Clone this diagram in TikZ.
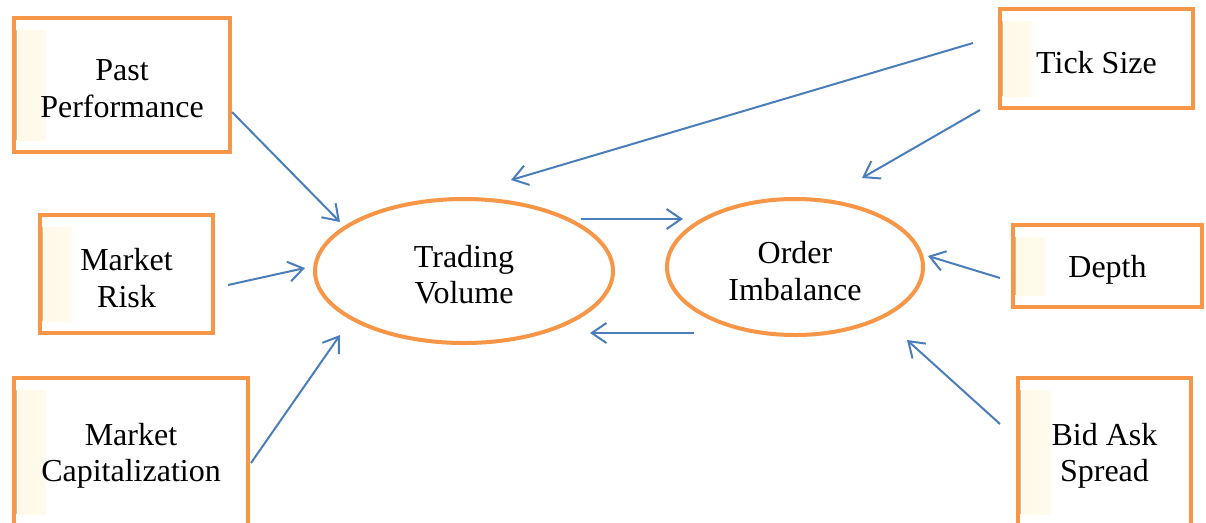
\documentclass[tikz,border=0pt]{standalone}
\usepackage{fontspec}
\setmainfont{Liberation Serif}
\usetikzlibrary{arrows.meta,shapes.geometric}
\definecolor{boxorange}{RGB}{247,150,70}
\definecolor{arrowblue}{RGB}{74,126,187}
\definecolor{stripetan}{RGB}{205,190,160}
\definecolor{stripepale}{RGB}{255,249,232}
\tikzset{
  txt/.style={align=center, font=\fontsize{24}{27.5}\selectfont, inner sep=0pt, yshift=-2.8pt},
  box/.style={draw=boxorange, line width=3pt, rectangle, outer sep=0pt, inner sep=0pt,
    label={[txt]center:{#1}},
    path picture={
      \shade[left color=stripepale, right color=white]
        ([xshift=1.5pt,yshift=-9pt]path picture bounding box.north west) rectangle
        ([xshift=24pt,yshift=9pt]path picture bounding box.south west);
      \draw[stripetan, line width=1pt]
        ([xshift=2pt,yshift=-9pt]path picture bounding box.north west) --
        ([xshift=2pt,yshift=9pt]path picture bounding box.south west);
    }},
  oval/.style={draw=boxorange, line width=3pt, ellipse, outer sep=0pt, inner sep=0pt,
    label={[txt]center:{#1}}},
  link/.style={draw=arrowblue, line width=1.5pt,
    -{Straight Barb[length=11pt,width=15pt,line width=1.5pt]}}
}
\begin{document}
\begin{tikzpicture}[x=0.75pt,y=-0.75pt]
\useasboundingbox (0,0) rectangle (1206,522);
\clip (0,0) rectangle (1206,522);
\fill[white] (0,0) rectangle (1206,522);
% boxes
\node[box={Past\\Performance}, minimum width=162pt, minimum height=100.5pt] (pp) at (122,85) {};
\node[box={Market\\Risk}, minimum width=129.75pt, minimum height=88.5pt] (mr) at (126.5,274) {};
\node[box={Market\\Capitalization}, minimum width=175.5pt, minimum height=111pt] (mc) at (131,452) {};
\node[box={Tick Size}, minimum width=144.75pt, minimum height=74.25pt] (ts) at (1096.5,58.5) {};
\node[box={Depth}, minimum width=141.75pt, minimum height=61.5pt] (dp) at (1107.5,266) {};
\node[box={Bid Ask\\Spread}, minimum width=129.75pt, minimum height=111pt] (ba) at (1104.5,452) {};
% ellipses
\node[oval={Trading\\Volume}, minimum width=223.5pt, minimum height=108pt] (tv) at (464,271) {};
\node[oval={Order\\Imbalance}, minimum width=192pt, minimum height=102pt] (oi) at (795,267) {};
% connector end points
\coordinate (ppOut) at (232,112);
\coordinate (tvInA) at (340,222);
\coordinate (mrOut) at (228,285);
\coordinate (tvInB) at (305,268);
\coordinate (mcOut) at (251,463);
\coordinate (tvInC) at (340,335);
\coordinate (tsOutA) at (973,43);
\coordinate (tvInD) at (511,180);
\coordinate (tsOutB) at (980,110);
\coordinate (oiInA) at (862,178);
\coordinate (tvOut) at (581,219);
\coordinate (oiInB) at (683,219);
\coordinate (oiOut) at (694,333);
\coordinate (tvInE) at (590,333);
\coordinate (dpOut) at (1000,278);
\coordinate (oiInC) at (928,256);
\coordinate (baOut) at (1000,424);
\coordinate (oiInD) at (907,340);
% connectors
\draw[link] (ppOut) -- (tvInA);
\draw[link] (mrOut) -- (tvInB);
\draw[link] (mcOut) -- (tvInC);
\draw[link] (tsOutA) -- (tvInD);
\draw[link] (tsOutB) -- (oiInA);
\draw[link] (tvOut) -- (oiInB);
\draw[link] (oiOut) -- (tvInE);
\draw[link] (dpOut) -- (oiInC);
\draw[link] (baOut) -- (oiInD);
\end{tikzpicture}
\end{document}
